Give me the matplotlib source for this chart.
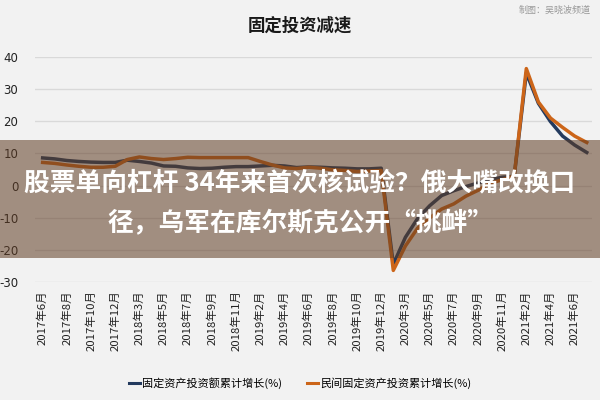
import matplotlib
matplotlib.use("Agg")
import matplotlib.pyplot as plt
from matplotlib.patches import Rectangle
from matplotlib.lines import Line2D

plt.rcParams['font.family'] = ['Noto Sans CJK SC', 'DejaVu Sans']

# ---- data ----
years = [2017] * 7 + [2018] * 11 + [2019] * 11 + [2020] * 11 + [2021] * 6
months = ([6, 7, 8, 9, 10, 11, 12] + list(range(2, 13)) * 3 + [2, 3, 4, 5, 6, 7])
labels = [f"{y}年{m}月" for y, m in zip(years, months)]

fai_total = [8.6, 8.3, 7.8, 7.5, 7.3, 7.2, 7.2,
             7.9, 7.5, 7.0, 6.1, 6.0, 5.5, 5.3, 5.4, 5.7, 5.9, 5.9,
             6.1, 6.3, 6.1, 5.6, 5.8, 5.7, 5.5, 5.4, 5.2, 5.2, 5.4,
             -24.5, -16.1, -10.3, -6.3, -3.1, -1.6, -0.3, 0.8, 1.8, 2.6, 2.9,
             35.0, 25.6, 19.9, 15.4, 12.6, 10.3]
fai_private = [7.2, 6.9, 6.4, 6.0, 5.7, 5.7, 6.0,
               8.1, 8.9, 8.4, 8.1, 8.4, 8.8, 8.7, 8.7, 8.7, 8.7, 8.7,
               7.5, 6.4, 5.5, 5.3, 5.7, 5.4, 4.9, 4.7, 4.4, 4.5, 4.7,
               -26.4, -18.8, -13.3, -10.1, -7.3, -5.7, -3.3, -1.5, 0.7, 1.8, 3.0,
               36.4, 26.0, 21.0, 18.1, 15.4, 13.4]

series_names = ['固定资产投资额累计增长(%)', '民间固定资产投资累计增长(%)']
colors = ['#233a5e', '#cc6519']
yticks = [-30, -20, -10, 0, 10, 20, 30, 40]

title = '固定投资减速'
credit = '制图：吴晓波频道'
banner_lines = ['股票单向杠杆 34年来首次核试验？俄大嘴改换口', '径，乌军在库尔斯克公开“挑衅”']

# ---- figure ----
bg = '#f2f2f2'
fig = plt.figure(figsize=(6, 4), dpi=100, facecolor=bg)
ax = fig.add_axes([0.058, 0.295, 0.929, 0.5625])
ax.set_facecolor(bg)

x = list(range(len(labels)))
ax.plot(x, fai_total, color=colors[0], lw=2.5, zorder=3, solid_joinstyle='round')
ax.plot(x, fai_private, color=colors[1], lw=2.5, zorder=4, solid_joinstyle='round')

ax.set_ylim(-30, 40)
ax.set_xlim(-0.65, len(labels) - 1 + 0.45)
ax.set_yticks(yticks)
ax.set_yticklabels([str(v) for v in yticks], fontsize=8.5, color='#222222', family='DejaVu Sans')
ax.set_xticks(x[::2])
ax.set_xticklabels(labels[::2], rotation=90, fontsize=8.2, color='#222222')
ax.tick_params(axis='both', length=0, pad=6)
ax.tick_params(axis='y', pad=12)
ax.grid(axis='y', color='#d9d9d9', lw=1)
ax.set_axisbelow(True)
for s in ax.spines.values():
    s.set_visible(False)

fig.text(0.5, 0.935, title, ha='center', va='center', fontsize=12.5, fontweight='bold', color='#1a1a1a')
fig.text(0.985, 0.975, credit, ha='right', va='center', fontsize=6.5, color='#9a9a9a')

handles = [Line2D([0], [0], color=c, lw=2.2) for c in colors]
fig.legend(handles, series_names, loc='center', bbox_to_anchor=(0.5, 0.043), ncol=2,
           frameon=False, fontsize=8, handlelength=1.0, handletextpad=0.2, columnspacing=2.2)

# ---- overlay banner ----
fig.patches.append(Rectangle((0, 1 - 258 / 400), 1, 118 / 400, transform=fig.transFigure,
                             facecolor=(95 / 255, 60 / 255, 35 / 255), alpha=0.55, zorder=10,
                             edgecolor='none'))
fig.text(0.5, 1 - 183 / 400, banner_lines[0], ha='center', va='center', fontsize=18.5,
         fontweight='bold', color='white', zorder=11)
fig.text(0.5, 1 - 224 / 400, banner_lines[1], ha='center', va='center', fontsize=18.5,
         fontweight='bold', color='white', zorder=11)

fig.savefig('out.png', dpi=100, facecolor=bg)
